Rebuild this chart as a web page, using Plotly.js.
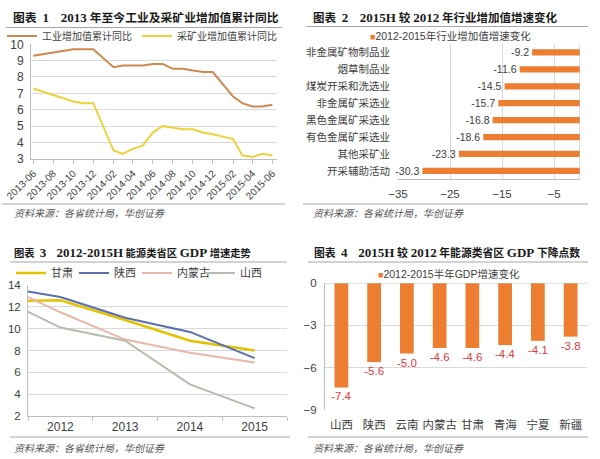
<!DOCTYPE html>
<html><head><meta charset="utf-8">
<script src="https://cdn.plot.ly/plotly-3.0.1.min.js"></script>
<style>html,body{margin:0;padding:0;background:#fff}#chart{width:600px;height:459px}</style>
</head><body><div id="chart"></div>
<script>
// ---- Panel 1: 2013年至今工业及采矿业增加值累计同比 ----
const months1 = ['2013-06-01','2013-07-01','2013-08-01','2013-09-01','2013-10-01','2013-11-01','2013-12-01',
  '2014-02-01','2014-03-01','2014-04-01','2014-05-01','2014-06-01','2014-07-01','2014-08-01','2014-09-01','2014-10-01','2014-11-01','2014-12-01',
  '2015-02-01','2015-03-01','2015-04-01','2015-05-01','2015-06-01'];
const industry1 = [9.3,9.4,9.5,9.6,9.7,9.7,9.7, 8.6,8.7,8.7,8.7,8.8,8.8,8.5,8.5,8.4,8.3,8.3, 6.8,6.4,6.2,6.2,6.3];
const mining1   = [7.3,7.1,6.9,6.7,6.5,6.4,6.4, 3.5,3.3,3.6,3.8,4.6,5.0,4.9,4.8,4.8,4.6,4.5, 4.2,3.2,3.1,3.3,3.2];
const names1 = ['工业增加值累计同比','采矿业增加值累计同比'];

// ---- Panel 2: 2015H 较 2012 年行业增加值增速变化 ----
const industries2 = ['非金属矿物制品业','烟草制品业','煤炭开采和洗选业','非金属矿采选业','黑色金属矿采选业','有色金属矿采选业','其他采矿业','开采辅助活动'];
const change2 = [-9.2,-11.6,-14.5,-15.7,-16.8,-18.6,-23.3,-30.3];
const name2 = '2012-2015年行业增加值增速变化';
const ticks2 = [-35,-25,-15,-5];

// ---- Panel 3: 2012-2015H 能源类省区 GDP 增速走势 ----
const years3 = [2011,2012,2013,2014,2015];
const yearLabels3 = [2012,2013,2014,2015];
const gansu3 = [12.5,12.6,10.8,8.9,8.0];
const shaanxi3 = [13.9,12.9,11.0,9.7,7.3];
const neimenggu3 = [14.3,11.5,9.0,7.8,6.9];
const shanxi3 = [13.0,10.1,8.9,4.9,2.7];
const names3 = ['甘肃','陕西','内蒙古','山西'];

// ---- Panel 4: 2015H 较 2012 年能源类省区 GDP 下降点数 ----
const provinces4 = ['山西','陕西','云南','内蒙古','甘肃','青海','宁夏','新疆'];
const drop4 = [-7.4,-5.6,-5.0,-4.6,-4.6,-4.4,-4.1,-3.8];
const name4 = '2012-2015半年GDP增速变化';
const ticks4 = [0,-3,-6,-9];

const titles = ['图表\u20021\u30002013 年至今工业及采矿业增加值累计同比','图表\u20022\u30002015H 较 2012 年行业增加值增速变化',
  '图表\u20023\u30002012-2015H 能源类省区 GDP 增速走势','图表\u20024\u30002015H 较 2012 年能源类省区 GDP 下降点数'];
const sourceText = '资料来源：各省统计局，华创证券';

const ORANGE = '#ED7D31';
const GRID = '#D9D9D9';
const AXIS = '#BFBFBF';
const TXT = '#404040';
const CJK = '"Liberation Sans", "Noto Sans CJK SC", sans-serif';
const SERIF = '"Liberation Serif", "Noto Sans CJK SC", serif';

const W = 600, H = 459;
const px = v => v / W;
const py = v => 1 - v / H;

const traces = [
  {type:'scatter', mode:'lines', x:months1, y:industry1, name:names1[0], xaxis:'x', yaxis:'y', legend:'legend',
   line:{color:'#D0884F', width:2}},
  {type:'scatter', mode:'lines', x:months1, y:mining1, name:names1[1], xaxis:'x', yaxis:'y', legend:'legend',
   line:{color:'#EDD33A', width:2}},
  {type:'bar', orientation:'h', x:change2, y:industries2, name:name2, xaxis:'x2', yaxis:'y2', showlegend:false,
   marker:{color:ORANGE}, width:0.37, text:change2.map(v=>v.toFixed(1)), textposition:'outside', cliponaxis:false,
   constraintext:'none', textfont:{size:10.5, color:TXT}},
  {type:'scatter', mode:'lines', x:years3, y:gansu3, name:names3[0], xaxis:'x3', yaxis:'y3', legend:'legend2',
   line:{color:'#E3C300', width:2.5}},
  {type:'scatter', mode:'lines', x:years3, y:shaanxi3, name:names3[1], xaxis:'x3', yaxis:'y3', legend:'legend2',
   line:{color:'#5A6DB0', width:2}},
  {type:'scatter', mode:'lines', x:years3, y:neimenggu3, name:names3[2], xaxis:'x3', yaxis:'y3', legend:'legend2',
   line:{color:'#E9B7AA', width:2}},
  {type:'scatter', mode:'lines', x:years3, y:shanxi3, name:names3[3], xaxis:'x3', yaxis:'y3', legend:'legend2',
   line:{color:'#B7BBAD', width:2}},
  {type:'bar', x:provinces4, y:drop4, name:name4, xaxis:'x4', yaxis:'y4', showlegend:false,
   marker:{color:ORANGE}, width:0.42, text:drop4.map(v=>v.toFixed(1)), textposition:'outside', cliponaxis:false,
   constraintext:'none', textfont:{size:11.5, color:'#E0393E'}}
];

function title(t, x, y, cjkSize){
  const html = t.replace(/[A-Za-z0-9\-]+/g, m => '<span style="font-size:13px">'+m+'</span>');
  return {text:'<b>'+html+'</b>', x:px(x), y:py(y), xref:'paper', yref:'paper', xanchor:'left', yanchor:'middle', showarrow:false, font:{family:SERIF, size:cjkSize, color:'#1a1a1a'}}; }
function source(x, y){ return {text:'<i>'+sourceText+'</i>', x:px(x), y:py(y), xref:'paper', yref:'paper', xanchor:'left', yanchor:'middle', showarrow:false, font:{family:CJK, size:10, color:'#555'}}; }
function hline(x0, x1, y, c){ return {type:'line', xref:'paper', yref:'paper', x0:px(x0), x1:px(x1), y0:py(y), y1:py(y), line:{color:c||'#A6A6A6', width:1}}; }

const layout = {
  width:W, height:H, margin:{l:0,r:0,t:0,b:0},
  paper_bgcolor:'#fff', plot_bgcolor:'rgba(0,0,0,0)',
  font:{family:CJK, color:TXT, size:11},
  hovermode:false,
  xaxis:{domain:[px(31),px(277)], anchor:'y', type:'date', range:['2013-05-25','2015-06-15'],
    tick0:'2013-06-01', dtick:'M2', tickformat:'%Y-%m', tickangle:-45, ticks:'outside', ticklen:4, tickcolor:AXIS,
    showline:true, linecolor:AXIS, showgrid:false, zeroline:false, tickfont:{size:10, color:TXT}},
  yaxis:{domain:[py(158.7),py(44.3)], anchor:'x', range:[3,10], dtick:1, showgrid:true, gridcolor:GRID,
    showline:true, linecolor:AXIS, ticks:'', zeroline:false, tickfont:{size:12, color:TXT}, ticklabelstandoff:4},

  xaxis2:{domain:[px(398),px(580)], anchor:'y2', range:[-35,0], tickvals:ticks2, showgrid:true, gridcolor:GRID,
    showline:true, linecolor:AXIS, ticks:'', zeroline:false, tickfont:{size:11.5, color:TXT}, ticklabelstandoff:4},
  yaxis2:{domain:[py(179.3),py(44)], anchor:'x2', type:'category', autorange:'reversed', showgrid:false,
    showline:false, ticks:'', zeroline:false, tickfont:{size:10.5, color:TXT}, ticklabelstandoff:7},

  xaxis3:{domain:[px(28),px(287)], anchor:'y3', range:[2011.5,2015.5], tickvals:yearLabels3, ticktext:yearLabels3.map(String),
    ticks:'', showline:true, linecolor:AXIS, showgrid:false, zeroline:false, tickfont:{size:12, color:TXT},
    minor:{tick0:2011.5, dtick:1, ticks:'outside', ticklen:4, tickcolor:AXIS, showgrid:false}},
  yaxis3:{domain:[py(416),py(285)], anchor:'x3', range:[2,14], dtick:2, showgrid:true, gridcolor:GRID,
    showline:true, linecolor:AXIS, ticks:'', zeroline:false, tickfont:{size:11.5, color:TXT}, ticklabelstandoff:4},

  xaxis4:{domain:[px(325),px(587)], anchor:'y4', type:'category', ticks:'', showline:false, showgrid:false,
    zeroline:false, tickfont:{size:11.5, color:TXT}, ticklabelstandoff:6},
  yaxis4:{domain:[py(410),py(283)], anchor:'x4', range:[-9,0], tickvals:ticks4, showgrid:true, gridcolor:GRID,
    showline:true, linecolor:AXIS, ticks:'', zeroline:false, tickfont:{size:11.5, color:TXT}, ticklabelstandoff:5},

  legend:{orientation:'h', x:px(2), y:py(36), xanchor:'left', yanchor:'middle', bgcolor:'rgba(0,0,0,0)',
    font:{size:10, color:TXT}, itemwidth:30, tracegroupgap:0},
  legend2:{orientation:'h', x:px(11), y:py(273), xanchor:'left', yanchor:'middle', bgcolor:'rgba(0,0,0,0)',
    font:{size:11, color:TXT}, itemwidth:30, entrywidth:18, entrywidthmode:'pixels'},

  annotations:[
    title(titles[0], 11, 17.5, 11.8),
    title(titles[1], 311, 17.5, 11.5),
    title(titles[2], 12, 253, 10.3),
    title(titles[3], 312, 253, 10.8),
    source(12, 213), source(311, 213), source(12, 448), source(311, 448),
    {text:'<span style="color:'+ORANGE+';font-size:9px">■</span>'+name2, x:px(450), y:py(36), xref:'paper', yref:'paper',
     xanchor:'center', yanchor:'middle', showarrow:false, font:{size:10.5, color:TXT}},
    {text:'<span style="color:'+ORANGE+';font-size:9px">■</span>'+name4, x:px(449), y:py(274), xref:'paper', yref:'paper',
     xanchor:'center', yanchor:'middle', showarrow:false, font:{size:10.5, color:TXT}}
  ],
  shapes:[
    hline(6, 282, 27.5), hline(2, 285, 204),
    hline(306, 588, 26.5), hline(303, 588, 204),
    hline(10, 287, 262), hline(10, 290, 437),
    hline(308, 588, 262), hline(308, 588, 437),
    {type:'line', xref:'x2', yref:'y2 domain', x0:0, x1:0, y0:0, y1:1, line:{color:AXIS, width:1}},
    {type:'line', xref:'x4 domain', yref:'y4', x0:0, x1:1, y0:0, y1:0, line:{color:AXIS, width:1}}
  ]
};

Plotly.newPlot('chart', traces, layout, {displayModeBar:false, staticPlot:true});
</script></body></html>
